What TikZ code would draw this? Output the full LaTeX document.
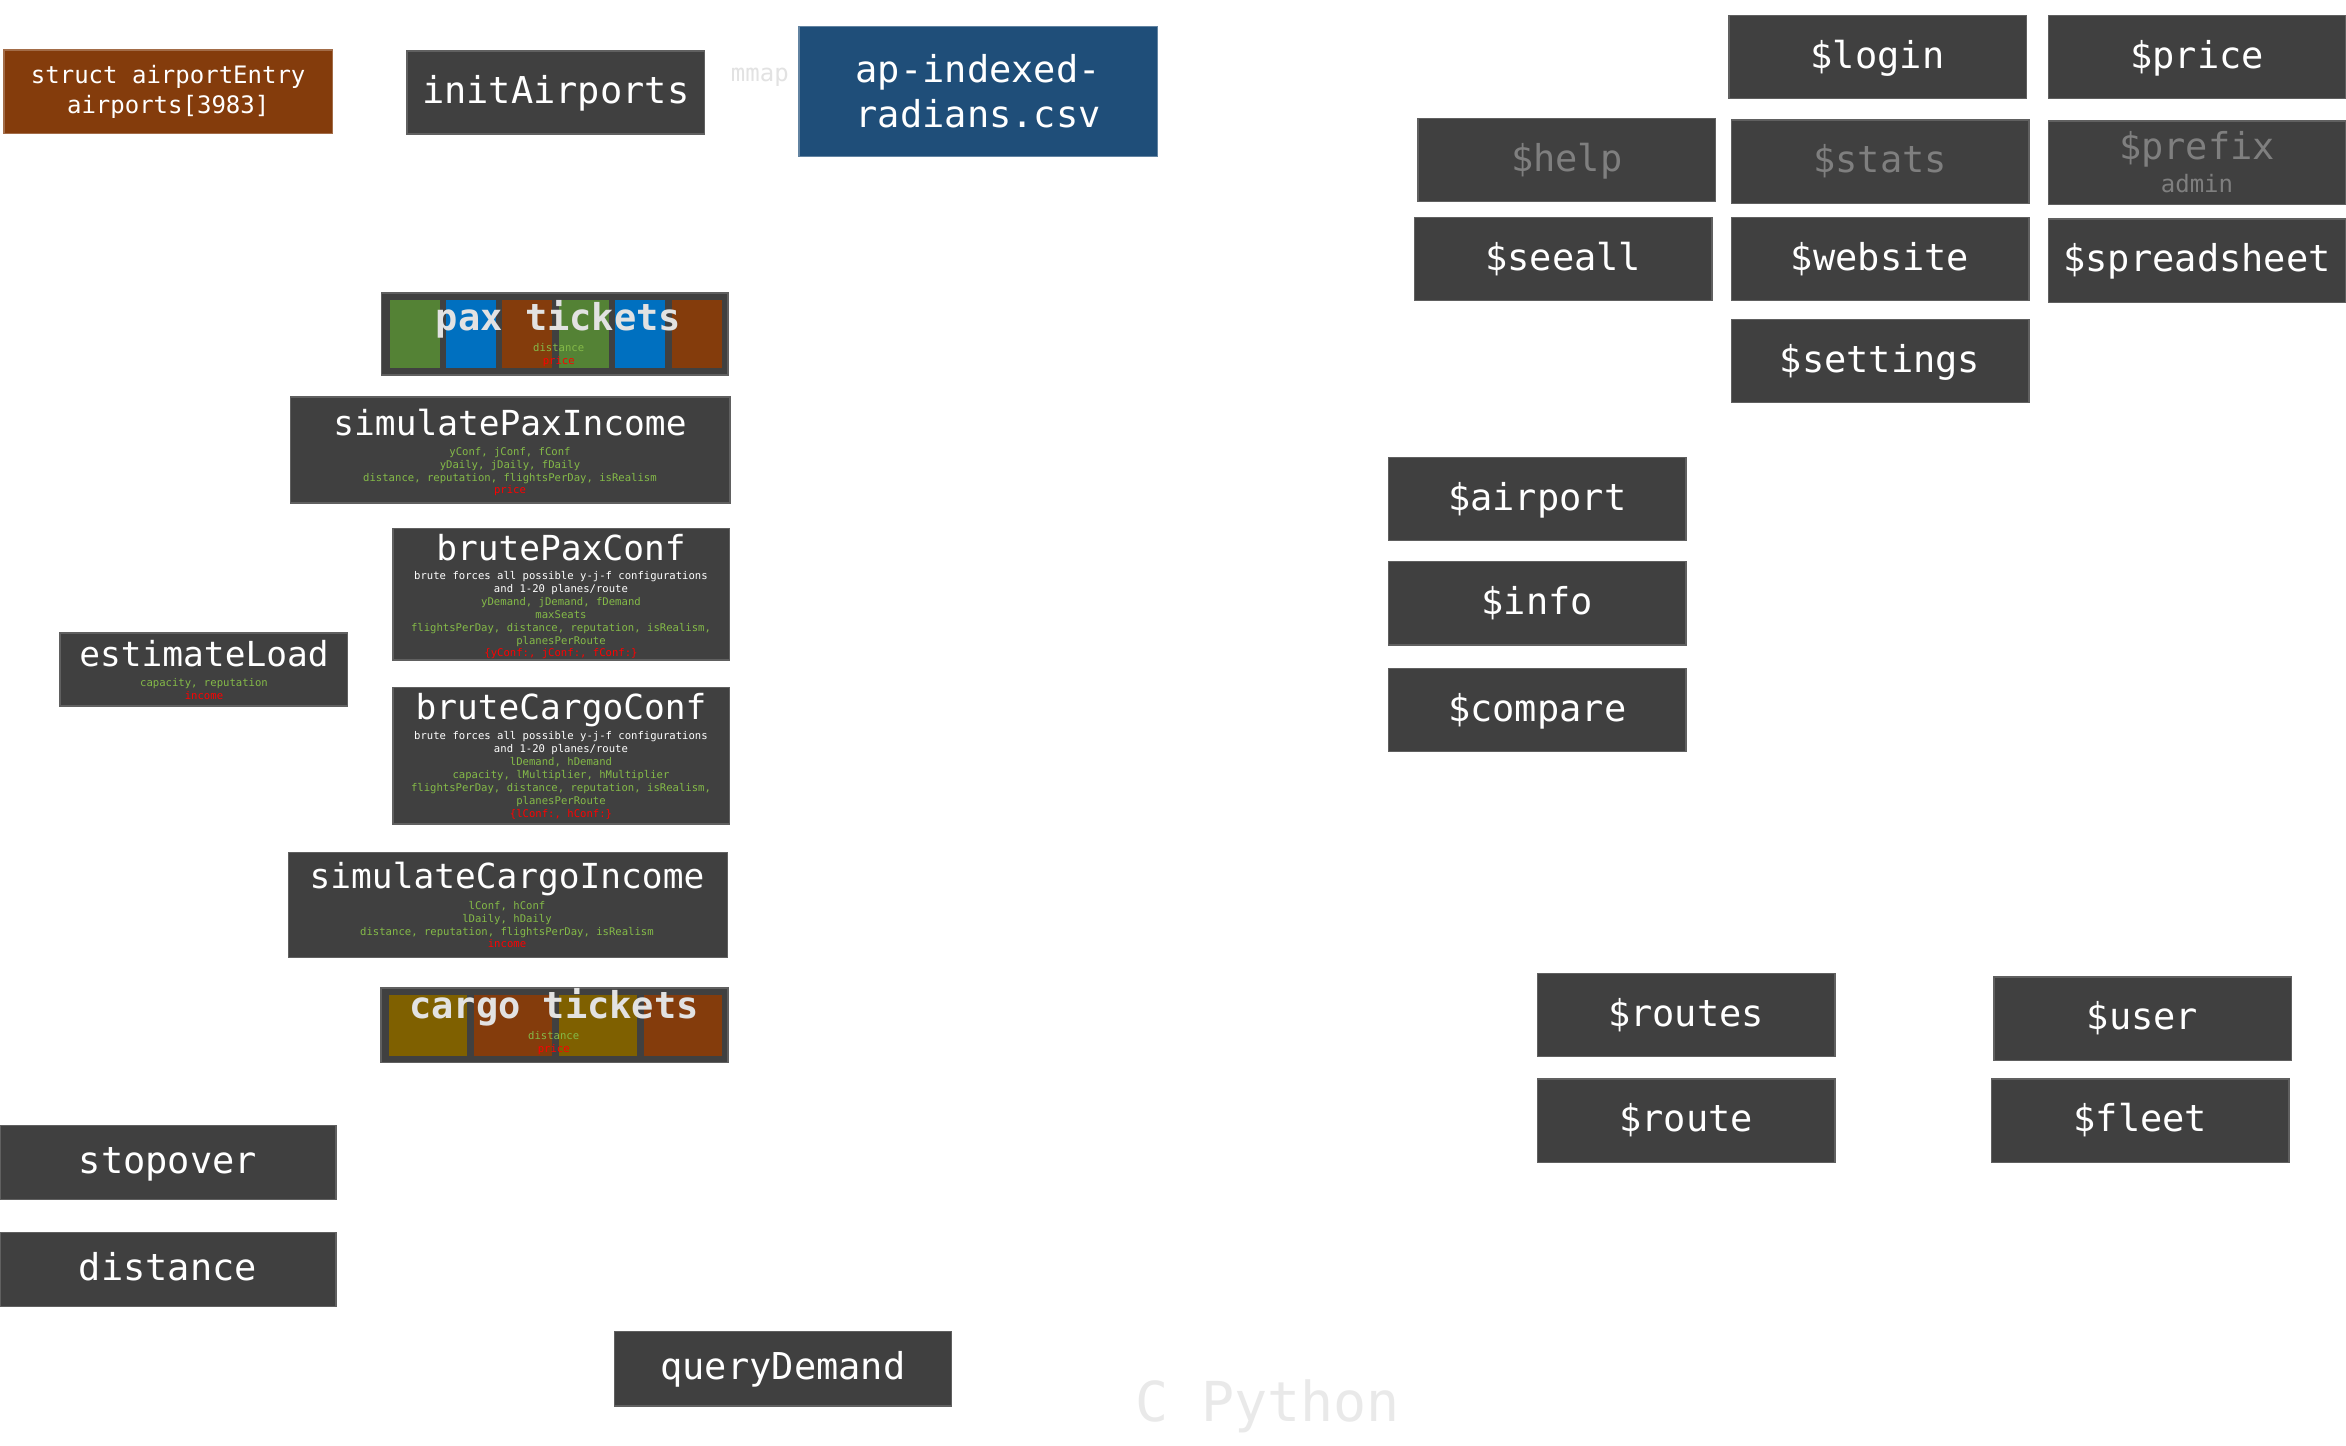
\documentclass[tikz,border=0pt]{standalone}
\usepackage{fontspec}
\usepackage{tikz}

\newfontfamily\mono{DejaVu Sans Mono}
\newcommand\bigmono{\mono\fontsize{37}{45}\selectfont}
\newcommand\fnmono{\mono\fontsize{34.5}{40}\selectfont}
\newcommand\midmono{\mono\fontsize{24}{30}\selectfont}
\newcommand\tinymono{\mono\fontsize{10.6}{12.9}\selectfont}
\newcommand\hugemono{\mono\fontsize{55}{60}\selectfont}

\definecolor{boxgray}{RGB}{64,64,64}
\definecolor{boxline}{RGB}{96,96,96}
\definecolor{rust}{RGB}{132,60,12}
\definecolor{csvblue}{RGB}{31,78,121}
\definecolor{tilegreen}{RGB}{84,130,53}
\definecolor{tileblue}{RGB}{0,112,192}
\definecolor{tileolive}{RGB}{127,96,0}
\definecolor{argcol}{RGB}{132,186,72}
\definecolor{outcol}{RGB}{255,0,0}
\definecolor{dimtext}{RGB}{127,127,127}
\definecolor{faint}{RGB}{226,226,226}
\definecolor{fainter}{RGB}{233,233,233}

\newcommand\inp[1]{\textcolor{argcol}{#1}}
\newcommand\outp[1]{\textcolor{outcol}{#1}}

\begin{document}
\begin{tikzpicture}[x=1pt, y=-1pt,
    cmd/.style={draw=boxline, fill=boxgray, line width=1.5pt, inner sep=0pt,
      minimum width=297.5pt, minimum height=83.4pt, text=white, font=\bigmono,
      text height=29.6pt, text depth=7.4pt},
    fnbox/.style={draw=boxline, fill=boxgray, line width=1.5pt, inner sep=0pt},
    fntitle/.style={font=\fnmono, text=white, anchor=base, inner sep=0pt},
    args/.style={font=\tinymono, text=white, align=center, anchor=north, inner sep=0pt},
    tile/.style={inner sep=0pt, anchor=north west},
    tixtitle/.style={font=\bigmono\bfseries, text=faint, anchor=base, inner sep=0pt}]

    \fill[white] (0,0) rectangle (2346,1446);
    \useasboundingbox (0,0) rectangle (2346,1446);

    % C side
    \node[fill=rust, draw=rust!75!white, line width=1.5pt, inner sep=0pt, minimum width=328.8pt,
      minimum height=83.3pt, text=white, font=\midmono, align=center] (airports) at (168.2,91.7)
      {struct airportEntry\\airports[3983]};
    \node[cmd] (init) at (555.7,92.5) {initAirports};
    \node[font=\midmono, text=faint, anchor=base, inner sep=0pt] (mmap) at (759.8,81.7) {mmap};
    \node[fill=csvblue, draw=csvblue!70!white, line width=1.5pt, inner sep=0pt, minimum width=358.3pt,
      minimum height=130pt, text=white, font=\bigmono, align=center] (csv) at (978.2,91.7)
      {ap-indexed-\\radians.csv};

    % pax tickets
    \node[fnbox, minimum width=346.5pt, minimum height=82.3pt] (paxtix) at (554.9,333.9) {};
    \foreach \c [count=\i from 0] in {tilegreen,tileblue,rust,tilegreen,tileblue,rust}
        \node[tile, fill=\c, minimum width=50pt, minimum height=67.3pt] (pax\i) at (389.3+56.4*\i,300) {};
    \node[tixtitle] (paxtitle) at (558.5,330.7) {pax tickets};
    \node[args] (paxargs) at (558.7,342) {\strut\inp{distance}\\\outp{price}};

    \node[fnbox, minimum width=439.3pt, minimum height=106pt] (simpax) at (510.3,450) {};
    \node[fntitle] (simpaxt) at (510,435) {simulatePaxIncome};
    \node[args] (simpaxa) at (510,446) {\strut\inp{yConf, jConf, fConf}\\
        \inp{yDaily, jDaily, fDaily}\\
        \inp{distance, reputation, flightsPerDay, isRealism}\\
        \outp{price}};

    \node[fnbox, minimum width=336.3pt, minimum height=131.7pt] (brutepax) at (561.2,594.2) {};
    \node[fntitle] (brutepaxt) at (561,560) {brutePaxConf};
    \node[args] (brutepaxa) at (561,570.3) {\strut brute forces all possible y-j-f configurations\\
        and 1-20 planes/route\\
        \inp{yDemand, jDemand, fDemand}\\
        \inp{maxSeats}\\
        \inp{flightsPerDay, distance, reputation, isRealism,}\\
        \inp{planesPerRoute}\\
        \outp{\{yConf:, jConf:, fConf:\}}};

    \node[fnbox, minimum width=287.7pt, minimum height=73.3pt] (load) at (203.8,669.4) {};
    \node[fntitle] (loadt) at (204,666.7) {estimateLoad};
    \node[args] (loada) at (204,677.3) {\strut\inp{capacity, reputation}\\\outp{income}};

    \node[fnbox, minimum width=336.3pt, minimum height=136.7pt] (brutecargo) at (561.2,755.7) {};
    \node[fntitle] (brutecargot) at (561,719.3) {bruteCargoConf};
    \node[args] (brutecargoa) at (561,730.7) {\strut brute forces all possible y-j-f configurations\\
        and 1-20 planes/route\\
        \inp{lDemand, hDemand}\\
        \inp{capacity, lMultiplier, hMultiplier}\\
        \inp{flightsPerDay, distance, reputation, isRealism,}\\
        \inp{planesPerRoute}\\
        \outp{\{lConf:, hConf:\}}};

    \node[fnbox, minimum width=439.3pt, minimum height=104.7pt] (simcargo) at (508,905) {};
    \node[fntitle] (simcargot) at (507,888.3) {simulateCargoIncome};
    \node[args] (simcargoa) at (507,900) {\strut\inp{lConf, hConf}\\
        \inp{lDaily, hDaily}\\
        \inp{distance, reputation, flightsPerDay, isRealism}\\
        \outp{income}};

    % cargo tickets
    \node[fnbox, minimum width=346.7pt, minimum height=74.7pt] (cargotix) at (554.4,1025.3) {};
    \foreach \c [count=\i from 0] in {tileolive,rust,tileolive,rust}
        \node[tile, fill=\c, minimum width=78.3pt, minimum height=60.7pt] (cargo\i) at (388.3+85*\i,995) {};
    \node[tixtitle] (cargotitle) at (554,1018.3) {cargo tickets};
    \node[args] (cargoargs) at (553.7,1030) {\strut\inp{distance}\\\outp{price}};

    \node[cmd, minimum width=336pt, minimum height=74.4pt] (stopover) at (168,1162.5) {stopover};
    \node[cmd, minimum width=336pt, minimum height=74.4pt] (distance) at (168,1269.5) {distance};
    \node[cmd, minimum width=337pt, minimum height=74.7pt] (query) at (782.9,1368.7) {queryDemand};

    \node[font=\hugemono, text=fainter, anchor=base, inner sep=0pt] (lang) at (1267.5,1421.7) {C Python};

    % bot commands
    \node[cmd] (login) at (1877.5,57) {\$login};
    \node[cmd] (price) at (2197,57) {\$price};
    \node[cmd, text=dimtext] (help) at (1566.7,160) {\$help};
    \node[cmd, text=dimtext] (stats) at (1880,161.7) {\$stats};
    \node[cmd] (prefix) at (2197,162.7) {};
    \node[font=\bigmono, text=dimtext, anchor=base, inner sep=0pt] (prefixt) at (2197,159.3) {\$prefix};
    \node[font=\midmono, text=dimtext, anchor=base, inner sep=0pt] (prefixa) at (2197,192.7) {admin};
    \node[cmd] (seeall) at (1563.3,259) {\$seeall};
    \node[cmd] (website) at (1880,259) {\$website};
    \node[cmd] (sheet) at (2197,260.7) {\$spreadsheet};
    \node[cmd] (settings) at (1880,361) {\$settings};

    \node[cmd] (airport) at (1537.2,499) {\$airport};
    \node[cmd] (info) at (1537.2,603.3) {\$info};
    \node[cmd] (compare) at (1537.2,710) {\$compare};

    \node[cmd] (routes) at (1686,1015) {\$routes};
    \node[cmd] (route) at (1686,1120.8) {\$route};
    \node[cmd] (user) at (2142.5,1018.7) {\$user};
    \node[cmd] (fleet) at (2140.3,1120.8) {\$fleet};
\end{tikzpicture}
\end{document}
